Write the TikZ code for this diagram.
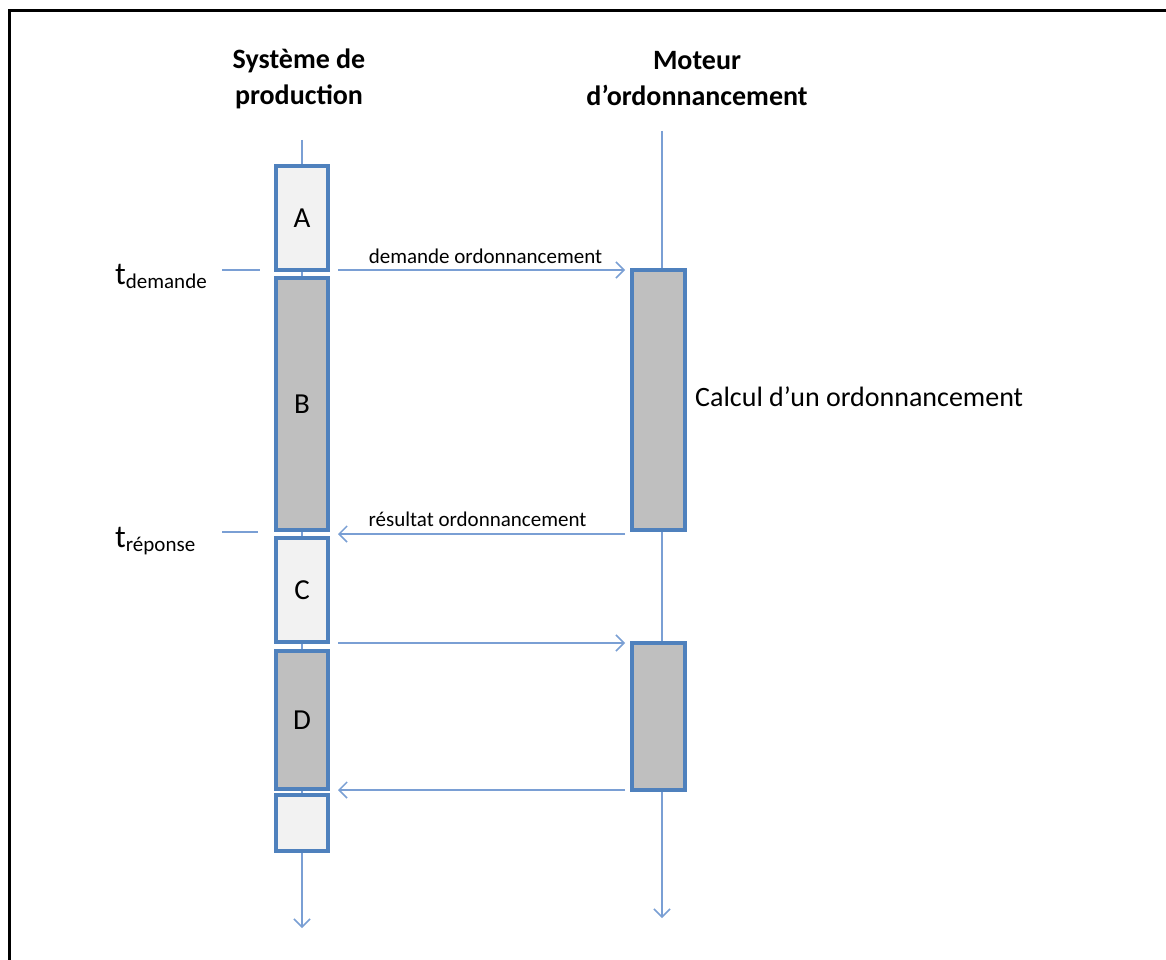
\documentclass[tikz,border=0pt]{standalone}
\usepackage{fontspec}
\setmainfont{Carlito}
\usetikzlibrary{arrows.meta}
\definecolor{boxblue}{HTML}{4F81BD}
\definecolor{lineblue}{HTML}{7A9FD4}
\definecolor{lightfill}{HTML}{F2F2F2}
\definecolor{darkfill}{HTML}{BFBFBF}
\tikzset{
  act/.style={draw=boxblue, line width=3.2pt, minimum width=52pt, inner sep=0pt, font=\fontsize{29}{33}\selectfont},
  actlight/.style={act, fill=lightfill},
  actdark/.style={act, fill=darkfill},
  life/.style={draw=lineblue, line width=1.5pt},
  msg/.style={draw=lineblue, line width=1.5pt, -{Straight Barb[length=8pt,width=16pt,line width=1.5pt]}},
  lbl/.style={font=\fontsize{21}{25}\selectfont, inner sep=0pt},
  hdr/.style={font=\bfseries\fontsize{28}{36}\selectfont, align=center, inner sep=0pt},
}
\begin{document}
\begin{tikzpicture}[x=1pt,y=-1pt]
\useasboundingbox (0,0) rectangle (1166,960);
% frame (open right/bottom)
\draw[line width=3pt] (9,960) -- (9,11) -- (1166,11);
% headers
\node[hdr] (h1) at (299,79) {Système de\\production};
\node[hdr] (h2) at (697,79) {Moteur\\d’ordonnancement};
% left boxes
\node[actlight, minimum height=104pt] (A) at (302,218) {A};
\node[actdark, minimum height=252pt] (B) at (302,404) {B};
\node[actlight, minimum height=104pt] (C) at (302,590) {C};
\node[actdark, minimum height=138pt] (D) at (302,720) {D};
\node[actlight, minimum height=56pt] (E) at (302,823) {};
% right boxes
\node[actdark, minimum height=260pt, minimum width=53pt] (R1) at (658.5,400) {};
\node[actdark, minimum height=147pt, minimum width=53pt] (R2) at (658.5,716.5) {};
% lifeline coordinates
\coordinate (lt) at (302,140);
\coordinate (lb) at (302,928);
\coordinate (rt) at (662,131);
\coordinate (rb) at (662,918);
% lifelines
\draw[life] (lt) -- (A.north);
\draw[life] (A.south) -- (B.north);
\draw[life] (B.south) -- (C.north);
\draw[life] (C.south) -- (D.north);
\draw[life] (D.south) -- (E.north);
\draw[msg] (E.south) -- (lb);
\draw[life] (rt) -- (R1.north -| rt);
\draw[life] (R1.south -| rt) -- (R2.north -| rt);
\draw[msg] (R2.south -| rt) -- (rb);
% messages
\coordinate (m1s) at (338,270);
\coordinate (m1e) at (625,270);
\coordinate (m2s) at (625,534);
\coordinate (m2e) at (338,534);
\coordinate (m3s) at (338,643);
\coordinate (m3e) at (625,643);
\coordinate (m4s) at (625,790);
\coordinate (m4e) at (338,790);
\draw[msg] (m1s) -- (m1e) node[lbl, midway, above=6pt, xshift=4pt] (l1) {demande ordonnancement};
\draw[msg] (m2s) -- (m2e) node[lbl, midway, above=7pt, xshift=-4pt] (l2) {résultat ordonnancement};
\draw[msg] (m3s) -- (m3e);
\draw[msg] (m4s) -- (m4e);
% time ticks
\coordinate (t1a) at (222,270);
\coordinate (t1b) at (260,270);
\coordinate (t2a) at (222,532);
\coordinate (t2b) at (258,532);
\draw[life] (t1a) -- (t1b);
\draw[life] (t2a) -- (t2b);
\node[anchor=base west, inner sep=0pt, font=\fontsize{32}{36}\selectfont] (td) at (115,284) {t\raisebox{-0.3ex}{\fontsize{21}{25}\selectfont demande}};
\node[anchor=base west, inner sep=0pt, font=\fontsize{32}{36}\selectfont] (tr) at (115,547) {t\raisebox{-0.3ex}{\fontsize{21}{25}\selectfont réponse}};
% calc label
\node[anchor=west, inner sep=0pt, font=\fontsize{28}{33}\selectfont] (calc) at (695,397) {Calcul d’un ordonnancement};
\end{tikzpicture}
\end{document}
